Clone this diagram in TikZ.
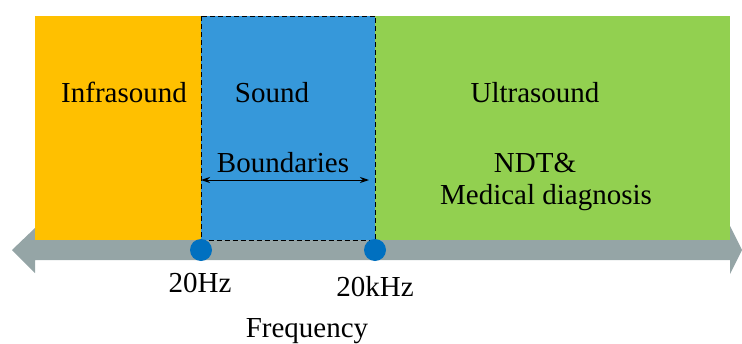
\documentclass[tikz,border=0pt]{standalone}
\usepackage{fontspec}
\setmainfont{Liberation Serif}
\newfontfamily\tnr{Liberation Serif}
\usetikzlibrary{arrows.meta}
\definecolor{cOrange}{HTML}{FFC000}
\definecolor{cBlue}{HTML}{3698DA}
\definecolor{cGreen}{HTML}{92D050}
\definecolor{cGray}{HTML}{95A5A6}
\definecolor{cDot}{HTML}{0070C0}
\tikzset{
  lbl/.style={anchor=base, inner sep=0pt, font=\tnr\fontsize{29}{34}\selectfont},
  band/.style={draw=none, inner sep=0pt, anchor=north west},
  dot/.style={circle, fill=cDot, minimum size=22pt, inner sep=0pt},
}
\begin{document}
\begin{tikzpicture}[x=1pt,y=-1pt]
\useasboundingbox (0,0) rectangle (742,343);
% axis arrow
\fill[cGray] (12,250) -- (35,228) -- (35,240) -- (730,240) -- (730,226) -- (742,250) -- (730,274) -- (730,260) -- (35,260) -- (35,273) -- cycle;
% bands
\node[band, fill=cOrange, minimum width=166pt, minimum height=224pt] (infra) at (35,16) {};
\node[band, fill=cGreen, minimum width=355pt, minimum height=224pt] (ultra) at (375,16) {};
\node[band, fill=cBlue, minimum width=174pt, minimum height=224pt] (sound) at (201,16) {};
\draw[black, line width=0.8pt, dash pattern=on 5pt off 3pt] (sound.north west) rectangle (sound.south east);
% dots
\node[dot] (d1) at (201,250) {};
\node[dot] (d2) at (375,250) {};
% labels
\node[lbl] (tinfra) at (124,102) {Infrasound};
\node[lbl] (tsound) at (272,102) {Sound};
\node[lbl] (tultra) at (535,102) {Ultrasound};
\node[lbl] (tbound) at (283,172) {Boundaries};
\node[lbl] (tndt) at (535,172) {NDT\&};
\node[lbl] (tmed) at (546,204) {Medical diagnosis};
\node[lbl] (t20) at (200,292) {20Hz};
\node[lbl] (t20k) at (375,296) {20kHz};
\node[lbl] (tfreq) at (307,337) {Frequency};
% boundaries arrow
\coordinate (bl) at (201,180);
\coordinate (br) at (369,180);
\draw[black, line width=1pt, {Stealth[length=9pt,width=6pt]}-{Stealth[length=9pt,width=6pt]}] (bl) -- (br);
\end{tikzpicture}
\end{document}
